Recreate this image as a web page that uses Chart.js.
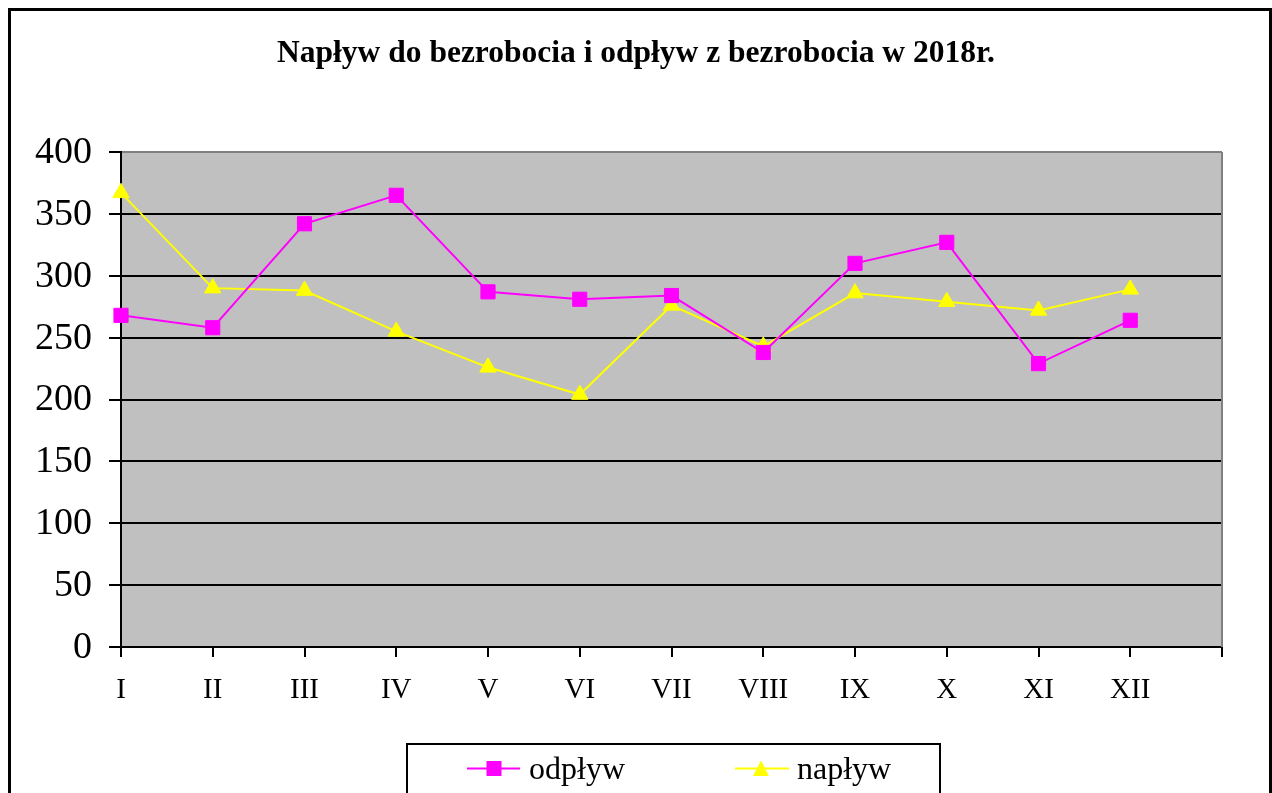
<!DOCTYPE html>
<html>
<head>
<meta charset="utf-8">
<script src="https://cdn.jsdelivr.net/npm/chart.js@4/dist/chart.umd.min.js"></script>
<style>
html,body{margin:0;padding:0;background:#fff;}
#wrap{width:1272px;height:793px;position:relative;}
</style>
</head>
<body>
<div id="wrap"><canvas id="c" width="1272" height="793"></canvas></div>
<script>
const titleText = 'Napływ do bezrobocia i odpływ z bezrobocia w 2018r.';
const months = ['I','II','III','IV','V','VI','VII','VIII','IX','X','XI','XII',''];
const odplyw = [268, 258, 342, 365, 287, 281, 284, 238, 310, 327, 229, 264];
const naplyw = [367, 290, 288, 255, 226, 204, 276, 243, 286, 279, 272, 289];
const seriesNames = ['odpływ', 'napływ'];
const yTicks = [0, 50, 100, 150, 200, 250, 300, 350, 400];

const SERIF = '"Times New Roman", "Liberation Serif", serif';

const framePlugin = {
  id: 'frame',
  beforeDraw(chart) {
    const {ctx, chartArea: a} = chart;
    ctx.save();
    ctx.fillStyle = '#fff';
    ctx.fillRect(0, 0, chart.width, chart.height);
    ctx.fillStyle = '#C0C0C0';
    ctx.fillRect(a.left, a.top, a.right - a.left, a.bottom - a.top);
    ctx.restore();
  },
  beforeDatasetsDraw(chart) {
    const {ctx, chartArea: a} = chart;
    ctx.save();
    ctx.strokeStyle = '#808080';
    ctx.lineWidth = 2;
    ctx.beginPath();
    ctx.moveTo(a.right, a.top);
    ctx.lineTo(a.right, a.bottom);
    ctx.stroke();
    ctx.restore();
  },
  afterDraw(chart) {
    const ctx = chart.ctx;
    ctx.save();
    // outer border
    ctx.strokeStyle = '#000';
    ctx.lineWidth = 3;
    ctx.beginPath();
    ctx.moveTo(9.5, 800);
    ctx.lineTo(9.5, 9.5);
    ctx.lineTo(1270.5, 9.5);
    ctx.lineTo(1270.5, 800);
    ctx.stroke();
    // legend box
    ctx.lineWidth = 2;
    ctx.beginPath();
    ctx.moveTo(407, 800);
    ctx.lineTo(407, 744);
    ctx.lineTo(940, 744);
    ctx.lineTo(940, 800);
    ctx.stroke();
    const ly = 768.5;
    const items = [
      {x0: 467, x1: 520, mx: 494, tx: 529, ds: chart.data.datasets[0]},
      {x0: 735, x1: 789, mx: 761, tx: 797, ds: chart.data.datasets[1]}
    ];
    items.forEach(it => {
      ctx.strokeStyle = it.ds.borderColor;
      ctx.lineWidth = 2;
      ctx.beginPath();
      ctx.moveTo(it.x0, ly);
      ctx.lineTo(it.x1, ly);
      ctx.stroke();
      ctx.fillStyle = it.ds.backgroundColor;
      if (it.ds.pointStyle === 'rect') {
        ctx.fillRect(it.mx - 7.5, ly - 7.5, 15, 15);
      } else {
        ctx.beginPath();
        ctx.moveTo(it.mx, ly - 8);
        ctx.lineTo(it.mx + 8, ly + 7.5);
        ctx.lineTo(it.mx - 8, ly + 7.5);
        ctx.closePath();
        ctx.fill();
      }
      ctx.fillStyle = '#000';
      ctx.font = '32px ' + SERIF;
      ctx.textBaseline = 'alphabetic';
      ctx.textAlign = 'left';
      ctx.fillText(it.ds.label, it.tx, 779);
    });
    ctx.restore();
  }
};

new Chart(document.getElementById('c'), {
  type: 'line',
  data: {
    labels: months,
    datasets: [
      {
        label: seriesNames[0],
        data: odplyw,
        borderColor: '#FF00FF',
        backgroundColor: '#FF00FF',
        borderWidth: 2,
        pointStyle: 'rect',
        pointRadius: 10,
        pointBorderWidth: 1,
        pointBorderColor: '#FF00FF',
        tension: 0,
        clip: false
      },
      {
        label: seriesNames[1],
        data: naplyw,
        borderColor: '#FFFF00',
        backgroundColor: '#FFFF00',
        borderWidth: 2,
        pointStyle: 'triangle',
        pointRadius: 9.5,
        pointBorderWidth: 1,
        pointBorderColor: '#FFFF00',
        tension: 0,
        clip: false
      }
    ]
  },
  options: {
    responsive: false,
    animation: false,
    devicePixelRatio: 1,
    layout: {padding: {left: 0, right: 0, top: 0, bottom: 0}},
    plugins: {
      legend: {display: false},
      tooltip: {enabled: false},
      title: {
        display: true,
        text: titleText,
        color: '#000',
        font: {family: SERIF, size: 31.5, weight: 'bold'},
        padding: {top: 35, bottom: 79.2}
      }
    },
    scales: {
      x: {
        type: 'category',
        offset: false,
        grid: {
          drawOnChartArea: false,
          drawTicks: true,
          tickLength: 10,
          color: '#000',
          tickColor: '#000',
          lineWidth: 2
        },
        border: {display: true, color: '#000', width: 2},
        ticks: {
          color: '#000',
          font: {family: SERIF, size: 29},
          padding: 16,
          autoSkip: false,
          maxRotation: 0
        },
        afterFit(s) { s.height = 146; }
      },
      y: {
        min: 0,
        max: 400,
        afterBuildTicks(s) { s.ticks = yTicks.map(v => ({value: v})); },
        grid: {
          drawTicks: true,
          tickLength: 12,
          color: ctx => (ctx.tick && ctx.tick.value === 400) ? '#808080' : '#000',
          tickColor: '#000',
          lineWidth: 2
        },
        border: {display: true, color: '#000', width: 2},
        ticks: {
          color: '#000',
          font: {family: SERIF, size: 38},
          padding: 17,
          labelOffset: 1
        },
        afterFit(s) { s.width = 121; }
      },
      yRight: {
        position: 'right',
        display: true,
        min: 0,
        max: 400,
        grid: {display: false, drawOnChartArea: false, drawTicks: false},
        border: {display: false},
        ticks: {display: false},
        afterFit(s) { s.width = 50; }
      }
    }
  },
  plugins: [framePlugin]
});
</script>
</body>
</html>
